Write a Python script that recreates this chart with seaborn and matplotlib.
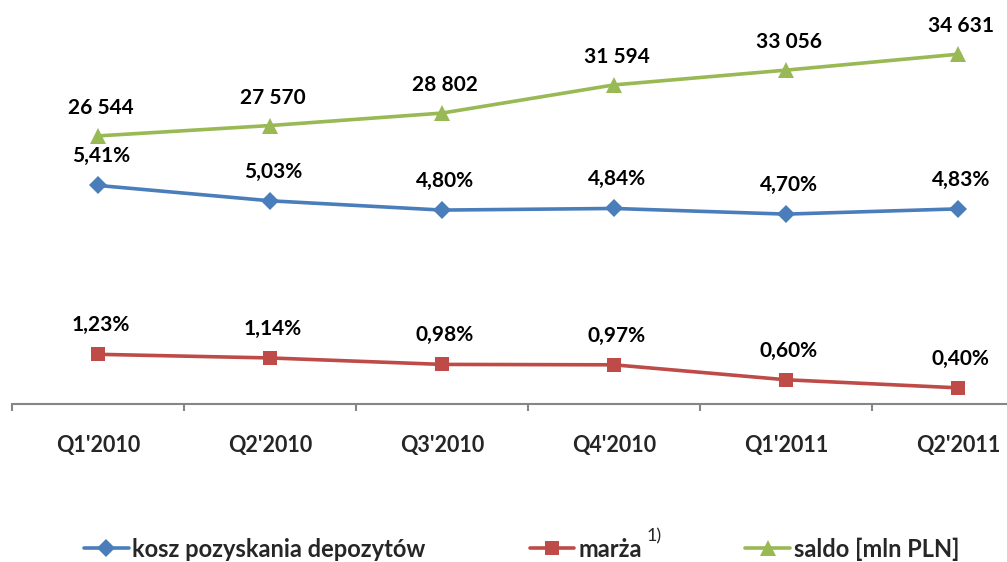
import pandas as pd
import seaborn as sns
import matplotlib.pyplot as plt

quarters = ["Q1'2010", "Q2'2010", "Q3'2010", "Q4'2010", "Q1'2011", "Q2'2011"]
koszt = [5.41, 5.03, 4.80, 4.84, 4.70, 4.83]      # kosz pozyskania depozytów [%]
marza = [1.23, 1.14, 0.98, 0.97, 0.60, 0.40]      # marża [%]
saldo = [26544, 27570, 28802, 31594, 33056, 34631]  # saldo [mln PLN]

BLUE = "#4A7EBB"
RED = "#BE4B48"
GREEN = "#98B954"

sns.set_style("white")
plt.rcParams["font.family"] = ["Lato", "DejaVu Sans"]

df = pd.DataFrame({"kwartal": quarters, "koszt": koszt, "marza": marza, "saldo": saldo})

fig = plt.figure(figsize=(10.07, 5.62), dpi=100)
# axes span wider than the figure on the right, like the cropped original
ax = fig.add_axes([12 / 1007, 158 / 562, 1032 / 1007, 404 / 562])
ax2 = ax.twinx()

sns.lineplot(data=df, x="kwartal", y="koszt", ax=ax, color=BLUE, lw=2.6,
             marker="D", markersize=9, markeredgewidth=0, label="kosz pozyskania depozytów")
sns.lineplot(data=df, x="kwartal", y="marza", ax=ax, color=RED, lw=2.6,
             marker="s", markersize=10, markeredgewidth=0, label="marża")
sns.lineplot(data=df, x="kwartal", y="saldo", ax=ax2, color=GREEN, lw=2.6,
             marker="^", markersize=11, markeredgewidth=0, label="saldo [mln PLN]")

ax.set_ylim(0, 10)
ax2.set_ylim(0, 40000)
ax.set_xlim(-0.5, 5.5)

lab_kw = dict(textcoords="offset points", ha="center", va="center",
              fontsize=15, fontweight="bold", color="black")
for i in range(len(quarters)):
    ax.annotate(f"{koszt[i]:.2f}%".replace(".", ","), (i, koszt[i]), xytext=(2, 21), **lab_kw)
    ax.annotate(f"{marza[i]:.2f}%".replace(".", ","), (i, marza[i]), xytext=(2, 21), **lab_kw)
    ax2.annotate(f"{saldo[i]:,}".replace(",", " "), (i, saldo[i]), xytext=(2, 20), **lab_kw)

for a in (ax, ax2):
    for s in ["top", "left", "right"]:
        a.spines[s].set_visible(False)
    a.set_yticks([])
    a.set_ylabel("")
    a.set_xlabel("")
    if a.get_legend():
        a.get_legend().remove()

ax.spines["bottom"].set_color("#868686")
ax.spines["bottom"].set_linewidth(1.5)
ax2.spines["bottom"].set_visible(False)
ax.set_xticks(range(len(quarters)))
ax.set_xticklabels(quarters, fontsize=15.5, fontweight="bold")
ax.set_xticks([i - 0.5 for i in range(len(quarters) + 1)], minor=True)
ax.tick_params(axis="x", which="major", bottom=False, length=0, pad=22)
ax.tick_params(axis="x", which="minor", bottom=True, length=5, width=1.5,
               color="#868686", direction="out")

h1, l1 = ax.get_legend_handles_labels()
h2, l2 = ax2.get_legend_handles_labels()
leg = fig.legend(h1 + h2, l1 + l2, loc="center", bbox_to_anchor=(0.518, 0.023), ncol=3,
                 frameon=False, handlelength=1.9, handletextpad=0.15, columnspacing=4.4,
                 prop={"size": 17, "weight": "bold"})

# superscript "1)" after "marża"
fig.canvas.draw()
bb = leg.get_texts()[1].get_window_extent()
fig.text((bb.x1 + 5) / 1007, (bb.y1 - 7) / 562, "1)", fontsize=13, ha="left", va="bottom")

fig.savefig("out.png", dpi=100)
